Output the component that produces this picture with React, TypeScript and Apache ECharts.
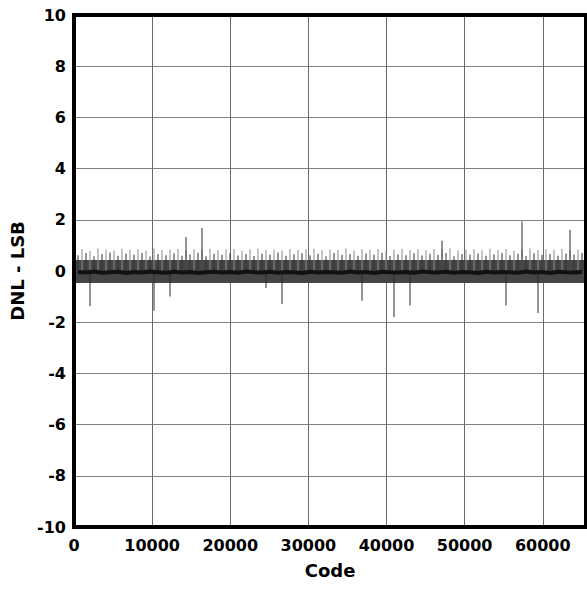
import React, { useEffect, useRef } from "react";
import * as echarts from "echarts";

// Axis ticks
const xTicks = [0, 10000, 20000, 30000, 40000, 50000, 60000];
const yTicks = [-10, -8, -6, -4, -2, 0, 2, 4, 6, 8, 10];
const CODE_MAX = 65536;

// Envelope of the dense DNL band (LSB)
const bandTop = 0.43;
const bandBottom = -0.47;

// Periodic peaks above the band: tall ones at every 1024 codes, shorter ones half-way
const peakTall = [0.82, 0.86, 0.78, 0.88, 0.84, 0.8, 0.87, 0.83, 0.85, 0.79, 0.88, 0.82, 0.84, 0.86, 0.8, 0.85,
  0.83, 0.87, 0.81, 0.84, 0.86, 0.79, 0.85, 0.88, 0.82, 0.84, 0.8, 0.86, 0.83, 0.85, 0.87, 0.81,
  0.84, 0.82, 0.88, 0.8, 0.85, 0.83, 0.86, 0.79, 0.84, 0.87, 0.82, 0.85, 0.81, 0.86, 0.83, 0.88,
  0.8, 0.84, 0.85, 0.82, 0.87, 0.83, 0.86, 0.8, 0.84, 0.88, 0.82, 0.85, 0.83, 0.86, 0.81, 0.84];
const peakShort = [0.62, 0.7, 0.58, 0.66, 0.72, 0.6, 0.68, 0.64, 0.7, 0.57, 0.66, 0.62, 0.69, 0.6, 0.65, 0.71,
  0.58, 0.67, 0.63, 0.7, 0.61, 0.66, 0.59, 0.68, 0.64, 0.72, 0.6, 0.65, 0.69, 0.62, 0.67, 0.58,
  0.7, 0.63, 0.66, 0.6, 0.68, 0.64, 0.71, 0.59, 0.65, 0.62, 0.69, 0.61, 0.67, 0.63, 0.7, 0.58,
  0.66, 0.64, 0.68, 0.6, 0.65, 0.71, 0.62, 0.67, 0.59, 0.69, 0.63, 0.66, 0.6, 0.68, 0.64, 0.7];

// Dark core of the band, one value per 1024-code block (centre)
const coreValues = [-0.04, -0.06, -0.02, -0.07, -0.05, -0.03, -0.08, -0.04, -0.06, -0.02, -0.05, -0.07, -0.03, -0.06, -0.04, -0.08,
  -0.05, -0.03, -0.06, -0.04, -0.07, -0.02, -0.05, -0.06, -0.03, -0.07, -0.04, -0.05, -0.08, -0.03, -0.06, -0.04,
  -0.05, -0.07, -0.02, -0.06, -0.04, -0.08, -0.03, -0.05, -0.06, -0.04, -0.07, -0.02, -0.05, -0.06, -0.03, -0.07,
  -0.04, -0.05, -0.08, -0.03, -0.06, -0.04, -0.05, -0.07, -0.02, -0.06, -0.04, -0.08, -0.03, -0.05, -0.06, -0.04];

// Large DNL outliers at major code transitions
const spikeCodes = [2048, 10240, 12288, 14336, 16384, 24576, 26624, 36864, 40960, 43008, 47104, 55296, 57344, 59392, 63488];
const spikeValues = [-1.37, -1.55, -1.0, 1.33, 1.68, -0.66, -1.29, -1.16, -1.8, -1.35, 1.18, -1.35, 1.93, -1.64, 1.6];

const FONT = "DejaVu Sans";
const GRID = { left: 74, top: 15, width: 512, height: 512 };

export default function App() {
  const ref = useRef<HTMLDivElement>(null);
  useEffect(() => {
    if (!ref.current) return;
    const chart = echarts.init(ref.current, undefined, { renderer: "svg" });

    const spikeData: any[] = [];
    peakShort.forEach((v, i) => {
      spikeData.push({ value: [i * 1024 + 512, v], itemStyle: { color: "#333333" } });
    });
    peakTall.forEach((v, i) => {
      spikeData.push({ value: [i * 1024, v], itemStyle: { color: "#8a8a8a" } });
    });
    spikeCodes.forEach((c, i) => {
      spikeData.push({ value: [c, spikeValues[i]], itemStyle: { color: "#2a2a2a" } });
    });

    const coreData = coreValues.map((v, i) => [i * 1024 + 512, v]);

    chart.setOption({
      animation: false,
      backgroundColor: "#ffffff",
      grid: {
        left: GRID.left,
        top: GRID.top,
        width: GRID.width,
        height: GRID.height,
        show: false,
      },
      graphic: [
        {
          type: "rect",
          shape: { x: GRID.left, y: GRID.top, width: GRID.width, height: GRID.height },
          style: { fill: "none", stroke: "#000000", lineWidth: 4 },
          z: 100,
          silent: true,
        },
      ],
      xAxis: {
        type: "value",
        min: 0,
        max: CODE_MAX,
        interval: 10000,
        name: "Code",
        nameLocation: "middle",
        nameGap: 34,
        nameTextStyle: { fontFamily: FONT, fontWeight: "bold", fontSize: 18, color: "#000" },
        axisLine: { show: false },
        axisTick: { show: false },
        axisLabel: {
          fontFamily: FONT,
          fontWeight: "bold",
          fontSize: 16,
          color: "#000",
          margin: 10,
          showMaxLabel: false,
          formatter: (v: number) => (xTicks.includes(v) ? String(v) : ""),
        },
        splitLine: { show: true, lineStyle: { color: "#6a6a6a", width: 1 } },
      },
      yAxis: {
        type: "value",
        min: -10,
        max: 10,
        interval: 2,
        name: "DNL - LSB",
        nameLocation: "middle",
        nameGap: 43,
        nameTextStyle: { fontFamily: FONT, fontWeight: "bold", fontSize: 18, color: "#000" },
        axisLine: { show: false },
        axisTick: { show: false },
        axisLabel: {
          fontFamily: FONT,
          fontWeight: "bold",
          fontSize: 16,
          color: "#000",
          margin: 8,
          formatter: (v: number) => (yTicks.includes(v) ? String(v) : ""),
        },
        splitLine: { show: true, lineStyle: { color: "#808080", width: 1 } },
      },
      series: [
        {
          type: "line",
          data: coreData,
          symbol: "none",
          lineStyle: { color: "#111111", width: 4 },
          z: 3,
          markArea: {
            silent: true,
            itemStyle: { color: "#454545" },
            data: [[{ yAxis: bandBottom }, { yAxis: bandTop }]],
          },
        },
        {
          type: "bar",
          data: spikeData,
          barWidth: 1,
          z: 2,
        },
      ],
    });
    return () => chart.dispose();
  }, []);
  return <div ref={ref} style={{ position: "fixed", left: 0, top: 0, width: 587, height: 590 }} />;
}
